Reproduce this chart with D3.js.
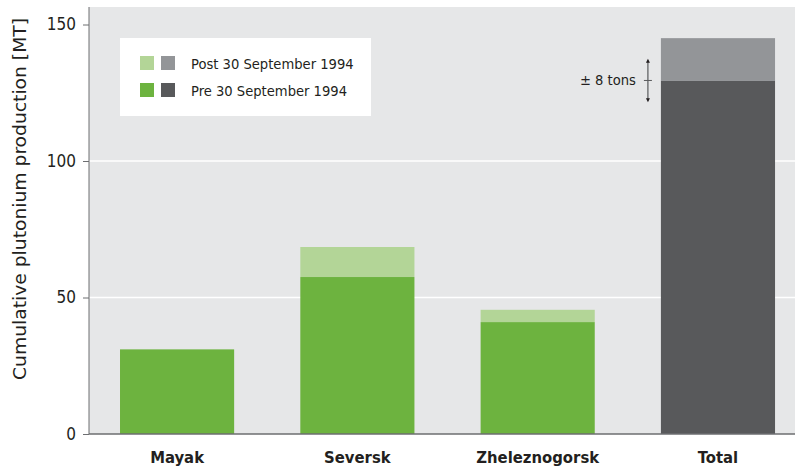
<!DOCTYPE html>
<html>
<head>
<meta charset="utf-8">
<script src="https://cdn.jsdelivr.net/npm/d3@7"></script>
<style>
  body { margin: 0; background: #fff; }
  text { font-family: "DejaVu Sans Condensed", "DejaVu Sans", sans-serif; fill: #231f20; }
</style>
</head>
<body>
<div id="chart"></div>
<script>
const categories = ["Mayak", "Seversk", "Zheleznogorsk", "Total"];
const preValues = [31, 57.5, 41, 129.5];
const postValues = [0, 11, 4.5, 15.5];
const yTicks = [0, 50, 100, 150];
const legendLabels = ["Post 30 September 1994", "Pre 30 September 1994"];
const uncertainty = 8;

const width = 795, height = 471;
const plotLeft = 89, plotBottom = 434, plotTop = 7;

const svg = d3.select("#chart").append("svg")
  .attr("width", width)
  .attr("height", height);

const step = 180.3, padIn = 0.367, padOut = 0.172;
const x = d3.scaleBand()
  .domain(categories)
  .range([plotLeft, plotLeft + step * (categories.length - padIn + 2 * padOut)])
  .paddingInner(padIn)
  .paddingOuter(padOut);

const y = d3.scaleLinear()
  .domain([0, 150])
  .range([plotBottom, plotBottom - 409.5]);

// plot background
svg.append("rect")
  .attr("x", plotLeft).attr("y", plotTop)
  .attr("width", width - plotLeft).attr("height", plotBottom - plotTop)
  .attr("fill", "#e6e7e8");

// gridlines
svg.append("g")
  .selectAll("line")
  .data(yTicks.filter(d => d > 0 && d < 150))
  .enter().append("line")
  .attr("x1", plotLeft).attr("x2", width)
  .attr("y1", d => y(d)).attr("y2", d => y(d))
  .attr("stroke", "#fff")
  .attr("stroke-width", 1.5);

const colors = {
  pre: d => d === "Total" ? "#58595b" : "#6db33f",
  post: d => d === "Total" ? "#939598" : "#b3d597"
};

const bars = svg.append("g");
categories.forEach((c, i) => {
  bars.append("rect")
    .attr("x", x(c)).attr("width", x.bandwidth())
    .attr("y", y(preValues[i]))
    .attr("height", y(0) - y(preValues[i]))
    .attr("fill", colors.pre(c));
  if (postValues[i] > 0) {
    bars.append("rect")
      .attr("x", x(c)).attr("width", x.bandwidth())
      .attr("y", y(preValues[i] + postValues[i]))
      .attr("height", y(preValues[i]) - y(preValues[i] + postValues[i]))
      .attr("fill", colors.post(c));
  }
});

// y axis
const yAxis = svg.append("g")
  .attr("transform", `translate(${plotLeft},0)`)
  .call(d3.axisLeft(y).tickValues(yTicks).tickSize(6).tickPadding(7));
yAxis.select(".domain").attr("stroke", "#6d6e71").attr("d", `M0,${plotTop}V${plotBottom}`);
yAxis.selectAll(".tick line").attr("stroke", "#6d6e71");
yAxis.selectAll(".tick text")
  .attr("font-size", 17)
  .attr("font-family", "DejaVu Sans Condensed")
  .attr("fill", "#231f20");

// x axis
const xAxis = svg.append("g")
  .attr("transform", `translate(0,${plotBottom})`)
  .call(d3.axisBottom(x).tickSize(0).tickPadding(17));
xAxis.select(".domain").attr("stroke", "#6d6e71").attr("stroke-width", 1.5)
  .attr("d", `M${plotLeft},0H${width}`);
xAxis.selectAll(".tick text")
  .attr("font-size", 16.5)
  .attr("font-weight", "bold")
  .attr("font-family", "DejaVu Sans Condensed")
  .attr("fill", "#231f20");

// y title
svg.append("text")
  .attr("transform", `translate(25.5,199) rotate(-90)`)
  .attr("text-anchor", "middle")
  .attr("font-size", 17)
  .attr("textLength", 362)
  .attr("lengthAdjust", "spacingAndGlyphs")
  .text("Cumulative plutonium production [MT]");

// legend
const legend = svg.append("g");
legend.append("rect")
  .attr("x", 120).attr("y", 38).attr("width", 251).attr("height", 78)
  .attr("fill", "#fff");
const legendColors = [["#b3d597", "#939598"], ["#6db33f", "#58595b"]];
legendLabels.forEach((lab, i) => {
  const ly = 56 + i * 27;
  legend.append("rect").attr("x", 140).attr("y", ly).attr("width", 14).attr("height", 14)
    .attr("fill", legendColors[i][0]);
  legend.append("rect").attr("x", 161).attr("y", ly).attr("width", 14).attr("height", 14)
    .attr("fill", legendColors[i][1]);
  legend.append("text").attr("x", 191).attr("y", ly + 12.5)
    .attr("font-size", 14.6)
    .text(lab);
});

// uncertainty annotation on total
const totalIdx = categories.indexOf("Total");
const mid = preValues[totalIdx];
const ax = x("Total") - 13;
const ann = svg.append("g").attr("stroke", "#58595b").attr("fill", "#231f20");
ann.append("line")
  .attr("x1", ax).attr("x2", ax)
  .attr("y1", y(mid + uncertainty) + 2).attr("y2", y(mid - uncertainty) - 2)
  .attr("stroke-width", 1.2);
ann.append("line")
  .attr("x1", ax - 4).attr("x2", ax + 4)
  .attr("y1", y(mid)).attr("y2", y(mid))
  .attr("stroke-width", 1);
[mid + uncertainty, mid - uncertainty].forEach((v, i) => {
  const yy = y(v);
  const dir = i === 0 ? 1 : -1;
  ann.append("path")
    .attr("d", `M${ax},${yy}L${ax - 2},${yy + dir * 4}L${ax + 2},${yy + dir * 4}Z`)
    .attr("stroke", "none").attr("fill", "#231f20");
});
svg.append("text")
  .attr("x", ax - 12).attr("y", y(mid) + 5)
  .attr("text-anchor", "end")
  .attr("font-size", 14.6)
  .text("± 8 tons");
</script>
</body>
</html>
